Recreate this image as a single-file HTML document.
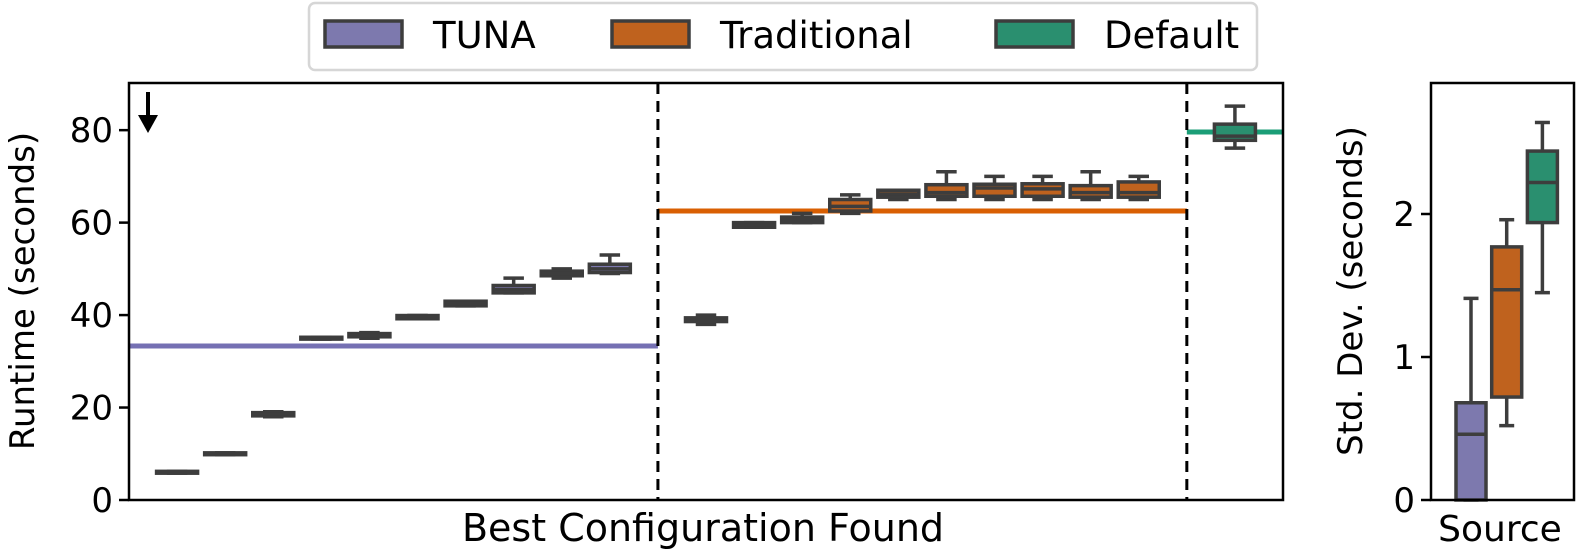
<!DOCTYPE html>
<html><head><meta charset="utf-8"><style>
body{margin:0;background:#fff;}
svg{display:block;font-family:"DejaVu Sans","Liberation Sans",sans-serif;}
</style></head><body>
<svg id="c" width="1578" height="553" viewBox="0 0 1578 553"></svg>
<script>
const groups=["TUNA","Traditional","Default"];
const colors=["#7570b3","#d95f02","#1b9e77"];
const fills=["#7d79ae","#bf621e","#2a8f6f"];
// main boxes: [whiskerLow,q1,median,q3,whiskerHigh]
const tunaBoxes=[[5.8,5.8,6,6.2,6.2],[9.8,9.8,10,10.2,10.2],[18,18.2,18.6,18.9,19.1],[34.8,34.8,35,35.2,35.2],[35,35.3,35.6,36,36.2],[39.2,39.2,39.5,39.9,39.9],[42,42,42.5,43,43],[44.8,44.8,45.5,46.4,48],[48,48.5,49,49.5,50],[49,49.2,50,51,53]];
const tradBoxes=[[38,38.6,39,39.4,40],[59,59,59.5,60,60],[60,60,60.5,61.2,62],[62,62.5,63.5,65,66],[65,65.5,66.2,67,67],[65,65.7,66.5,68.2,71],[65,65.7,67.5,68.3,70],[65,65.7,67.3,68.4,70],[65,65.5,66.5,68,71],[65,65.5,66.5,68.8,70]];
const defaultBoxes=[[76.1,77.8,78.7,81.3,85.2]];
const refLines=[33.3,62.5,79.6];
const yTicks=[0,20,40,60,80];
// std dev boxes
const stdBoxes=[[0,0,0.46,0.68,1.41],[0.52,0.72,1.47,1.77,1.96],[1.45,1.94,2.22,2.44,2.64]];
const stdTicks=[0,1,2];

const NS="http://www.w3.org/2000/svg";
const svg=document.getElementById('c');
function mk(t,a,p){const e=document.createElementNS(NS,t);for(const k in a)e.setAttribute(k,a[k]);(p||svg).appendChild(e);return e;}
const L=129,R=1283,T=83,B=500;
const xs=i=>L+(i+1)*(R-L)/24;
const ys=v=>B-v*(B-T)/90.2;
const R2L=1431,R2R=1574;
const xs2=i=>1471+i*35.7;
const ys2=v=>B-v*143;

function drawBox(d,cx,w,ysf,fill,name){
  const g=mk('g',{});
  
  
  const st={stroke:'#3d3d3d','stroke-width':3.5,fill:'none'};
  mk('line',Object.assign({x1:cx,x2:cx,y1:ysf(d[0]),y2:ysf(d[1])},st),g);
  mk('line',Object.assign({x1:cx,x2:cx,y1:ysf(d[3]),y2:ysf(d[4])},st),g);
  mk('line',Object.assign({x1:cx-w/4,x2:cx+w/4,y1:ysf(d[0]),y2:ysf(d[0])},st),g);
  mk('line',Object.assign({x1:cx-w/4,x2:cx+w/4,y1:ysf(d[4]),y2:ysf(d[4])},st),g);
  const h=Math.max(ysf(d[1])-ysf(d[3]),1);
  mk('rect',{x:cx-w/2,y:ysf(d[3]),width:w,height:h,fill:fill,stroke:'#3d3d3d','stroke-width':3.5},g);
  mk('line',Object.assign({x1:cx-w/2,x2:cx+w/2,y1:ysf(d[2]),y2:ysf(d[2])},st),g);
}
const refX=[[L,xs(10)],[xs(10),xs(21)],[xs(21),R]];
refLines.forEach((v,i)=>{
  const l=mk('line',{x1:refX[i][0],x2:refX[i][1],y1:ys(v),y2:ys(v),stroke:colors[i],'stroke-width':5});
  
  
});
tunaBoxes.forEach((d,i)=>drawBox(d,xs(i),41,ys,fills[0],'tuna-box-'+(i+1)));
tradBoxes.forEach((d,i)=>drawBox(d,xs(11+i),41,ys,fills[1],'traditional-box-'+(i+1)));
defaultBoxes.forEach((d,i)=>drawBox(d,xs(22+i),41,ys,fills[2],'default-box'));
[10,21].forEach(k=>{
  const l=mk('line',{x1:xs(k),x2:xs(k),y1:T,y2:B,stroke:'#000','stroke-width':3,'stroke-dasharray':'11,7'});
  
  
});
mk('rect',{x:L,y:T,width:R-L,height:B-T,fill:'none',stroke:'#000','stroke-width':2.5});
yTicks.forEach(v=>{
  mk('line',{x1:L-10,x2:L,y1:ys(v),y2:ys(v),stroke:'#000','stroke-width':2.5});
  const t=mk('text',{x:L-16,y:ys(v)+12,'text-anchor':'end','font-size':34});
  t.textContent=v;
  
  
});
mk('line',{x1:148,x2:148,y1:92,y2:118,stroke:'#000','stroke-width':4});
mk('polygon',{points:'138,115 158,115 148,133',fill:'#000'});
stdBoxes.forEach((d,i)=>drawBox(d,xs2(i),30,ys2,fills[i],'stddev-box-'+groups[i].toLowerCase()));
mk('rect',{x:R2L,y:T,width:R2R-R2L,height:B-T,fill:'none',stroke:'#000','stroke-width':2.5});
stdTicks.forEach(v=>{
  mk('line',{x1:R2L-10,x2:R2L,y1:ys2(v),y2:ys2(v),stroke:'#000','stroke-width':2.5});
  const t=mk('text',{x:R2L-16,y:ys2(v)+12,'text-anchor':'end','font-size':34});
  t.textContent=v;
  
  
});
</script>
<svg style="position:absolute;left:0;top:0" width="1578" height="553">
<text transform="translate(34,291) rotate(-90)" text-anchor="middle" font-size="34" font-family="DejaVu Sans, Liberation Sans, sans-serif">Runtime (seconds)</text>
<text x="703" y="541" text-anchor="middle" font-size="38" font-family="DejaVu Sans, Liberation Sans, sans-serif">Best Configuration Found</text>
<text transform="translate(1362,291) rotate(-90)" text-anchor="middle" font-size="34" font-family="DejaVu Sans, Liberation Sans, sans-serif">Std. Dev. (seconds)</text>
<text x="1500" y="541" text-anchor="middle" font-size="36" font-family="DejaVu Sans, Liberation Sans, sans-serif">Source</text>
<g font-family="DejaVu Sans, Liberation Sans, sans-serif" font-size="37">
<rect x="309" y="3" width="948" height="67" rx="6" fill="#fff" stroke="#d6d6d6" stroke-width="2.5"/>
<g><rect x="325" y="21" width="77" height="26" fill="#7d79ae" stroke="#3d3d3d" stroke-width="3.5"/><text x="433" y="48">TUNA</text></g>
<g><rect x="612" y="21" width="77" height="26" fill="#bf621e" stroke="#3d3d3d" stroke-width="3.5"/><text x="720" y="48">Traditional</text></g>
<g><rect x="996" y="21" width="77" height="26" fill="#2a8f6f" stroke="#3d3d3d" stroke-width="3.5"/><text x="1104" y="48">Default</text></g>
</g>
</svg>
</body></html>
